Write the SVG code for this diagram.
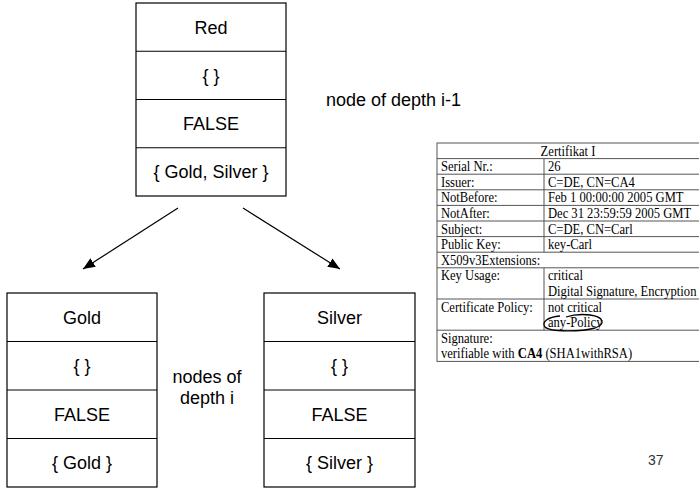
<svg xmlns="http://www.w3.org/2000/svg" width="699" height="488" viewBox="0 0 699 488">
<defs>
<marker id="ah" viewBox="0 0 12 10" refX="12" refY="5" markerWidth="12" markerHeight="10" markerUnits="userSpaceOnUse" orient="auto">
<path d="M0,0 L12,5 L0,10 z" fill="#000"/>
</marker>
<style>
.box{fill:#fff;stroke:#000;stroke-width:1.2}
.sep{stroke:#000;stroke-width:1.2}
.nt{font-family:"Liberation Sans",Arial,sans-serif;font-size:18px;fill:#000;text-anchor:middle}
.lbl{font-family:"Liberation Sans",Arial,sans-serif;font-size:18px;fill:#000}
.tl{stroke:#555;stroke-width:1;fill:none}
.tt{font-family:"Liberation Serif","Times New Roman",serif;font-size:14px;fill:#000}
.conn{stroke:#000;stroke-width:1.2;fill:none}
</style>
</defs>
<rect width="699" height="488" fill="#fff"/>

<g id="node-red">
<rect class="box" x="136" y="3" width="150" height="193"/>
<line class="sep" x1="136" y1="51.25" x2="286" y2="51.25"/>
<line class="sep" x1="136" y1="99.5" x2="286" y2="99.5"/>
<line class="sep" x1="136" y1="147.75" x2="286" y2="147.75"/>
<text class="nt" x="211" y="33.6">Red</text>
<text class="nt" x="211" y="81.9">{ }</text>
<text class="nt" x="211" y="130.1">FALSE</text>
<text class="nt" x="211" y="178.4">{ Gold, Silver }</text>
</g>

<g id="node-gold">
<rect class="box" x="7" y="293" width="150" height="194"/>
<line class="sep" x1="7" y1="341.5" x2="157" y2="341.5"/>
<line class="sep" x1="7" y1="390" x2="157" y2="390"/>
<line class="sep" x1="7" y1="438.5" x2="157" y2="438.5"/>
<text class="nt" x="82" y="323.8">Gold</text>
<text class="nt" x="82" y="372.3">{ }</text>
<text class="nt" x="82" y="420.8">FALSE</text>
<text class="nt" x="82" y="469.3">{ Gold }</text>
</g>

<g id="node-silver">
<rect class="box" x="264" y="293" width="151" height="194"/>
<line class="sep" x1="264" y1="341.5" x2="415" y2="341.5"/>
<line class="sep" x1="264" y1="390" x2="415" y2="390"/>
<line class="sep" x1="264" y1="438.5" x2="415" y2="438.5"/>
<text class="nt" x="339.5" y="323.8">Silver</text>
<text class="nt" x="339.5" y="372.3">{ }</text>
<text class="nt" x="339.5" y="420.8">FALSE</text>
<text class="nt" x="339.5" y="469.3">{ Silver }</text>
</g>

<g id="connectors">
<line class="conn" x1="178" y1="208" x2="83" y2="269" marker-end="url(#ah)"/>
<line class="conn" x1="243" y1="208" x2="340" y2="269" marker-end="url(#ah)"/>
</g>

<g id="labels">
<text class="lbl" x="326" y="106">node of depth i-1</text>
<text class="nt" x="207" y="383">nodes of</text>
<text class="nt" x="207" y="404">depth i</text>
</g>

<g id="certificate">
<rect class="tl" x="437" y="143" width="263" height="218.4" fill="#fff"/>
<line class="tl" x1="437" y1="158.6" x2="700" y2="158.6"/>
<line class="tl" x1="437" y1="174.2" x2="700" y2="174.2"/>
<line class="tl" x1="437" y1="189.8" x2="700" y2="189.8"/>
<line class="tl" x1="437" y1="205.4" x2="700" y2="205.4"/>
<line class="tl" x1="437" y1="221" x2="700" y2="221"/>
<line class="tl" x1="437" y1="236.6" x2="700" y2="236.6"/>
<line class="tl" x1="437" y1="252.2" x2="700" y2="252.2"/>
<line class="tl" x1="437" y1="267.8" x2="700" y2="267.8"/>
<line class="tl" x1="437" y1="299" x2="700" y2="299"/>
<line class="tl" x1="437" y1="330.2" x2="700" y2="330.2"/>
<line class="tl" x1="544" y1="158.6" x2="544" y2="252.2"/>
<line class="tl" x1="544" y1="267.8" x2="544" y2="330.2"/>
<g transform="translate(437,0) scale(0.9,1) translate(-437,0)">
<text class="tt" x="582.6" y="155.6" text-anchor="middle">Zertifikat I</text>
<text class="tt" x="441.4" y="171.2">Serial Nr.:</text><text class="tt" x="560.3" y="171.2">26</text>
<text class="tt" x="441.4" y="186.8">Issuer:</text><text class="tt" x="560.3" y="186.8">C=DE, CN=CA4</text>
<text class="tt" x="441.4" y="202.4">NotBefore:</text><text class="tt" x="560.3" y="202.4">Feb 1 00:00:00 2005 GMT</text>
<text class="tt" x="441.4" y="218">NotAfter:</text><text class="tt" x="560.3" y="218">Dec 31 23:59:59 2005 GMT</text>
<text class="tt" x="441.4" y="233.6">Subject:</text><text class="tt" x="560.3" y="233.6">C=DE, CN=Carl</text>
<text class="tt" x="441.4" y="249.2">Public Key:</text><text class="tt" x="560.3" y="249.2">key-Carl</text>
<text class="tt" x="441.4" y="264.8">X509v3Extensions:</text>
<text class="tt" x="441.4" y="280.4">Key Usage:</text><text class="tt" x="560.3" y="280.4">critical</text>
<text class="tt" x="560.3" y="296">Digital Signature, Encryption</text>
<text class="tt" x="441.4" y="311.6">Certificate Policy:</text><text class="tt" x="560.3" y="311.6">not critical</text>
<text class="tt" x="560.3" y="327.2">any-Policy</text>
<text class="tt" x="441.4" y="342.8">Signature:</text>
<text class="tt" x="441.4" y="358.4">verifiable with <tspan font-weight="bold">CA4</tspan> (SHA1withRSA)</text>
</g>
<path d="M560,316 C548,317 541,322 545,327 C550,332 580,332 595,328 C606,324 604,317 590,315 C582,314 572,315 566,317" fill="none" stroke="#000" stroke-width="1.3"/>
</g>

<text x="648" y="465" font-family="'Liberation Sans',Arial,sans-serif" font-size="14" fill="#333">37</text>
</svg>
